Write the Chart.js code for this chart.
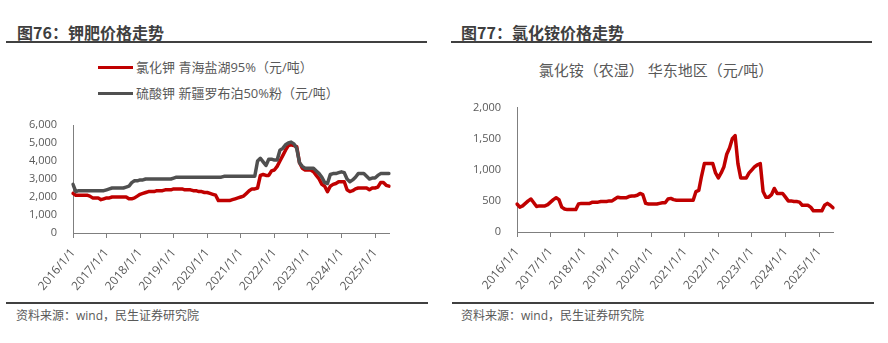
<!DOCTYPE html>
<html>
<head>
<meta charset="utf-8">
<script src="https://cdn.jsdelivr.net/npm/chart.js@4.4.1/dist/chart.umd.min.js"></script>
<style>
  body { margin: 0; width: 888px; height: 343px; background: #fff; position: relative; overflow: hidden;
         font-family: "Open Sans", "Noto Sans CJK SC", sans-serif; color: #595959; }
  .title { position: absolute; top: 21px; font: bold 16px "Noto Sans CJK SC", sans-serif; color: #3f3f3f; line-height: 22px; }
  .rule { position: absolute; height: 2px; background: #404040; }
  .src { position: absolute; top: 307px; font-size: 12px; line-height: 18px; color: #595959; }
  .leg { position: absolute; left: 98px; font-size: 13px; line-height: 18px; }
  .leg i { position: absolute; left: 0; top: 7.5px; width: 35px; height: 3.5px; }
  .leg span { position: absolute; left: 38px; top: 0; white-space: nowrap; }
  .sub { position: absolute; left: 444px; width: 424px; top: 59px; text-align: center; font-size: 15px; line-height: 22px; }
  .box { position: absolute; }
</style>
</head>
<body>
<div class="title" style="left:17px">图76：钾肥价格走势</div>
<div class="title" style="left:461px">图77：氯化铵价格走势</div>
<div class="rule" style="left:6px;width:421px;top:41px"></div>
<div class="rule" style="left:451px;width:421px;top:41px"></div>

<div class="leg" style="top:58px"><i style="background:#C00000"></i><span>氯化钾 青海盐湖95%（元/吨）</span></div>
<div class="leg" style="top:84px"><i style="background:#505050"></i><span>硫酸钾 新疆罗布泊50%粉（元/吨）</span></div>
<div class="sub">氯化铵（农湿） 华东地区（元/吨）</div>

<div class="box" style="left:0;top:100px"><canvas id="c1" width="444" height="200"></canvas></div>
<div class="box" style="left:444px;top:85px"><canvas id="c2" width="444" height="215"></canvas></div>

<div class="rule" style="left:6px;width:422px;top:302px"></div>
<div class="rule" style="left:452px;width:422px;top:302px"></div>
<div class="src" style="left:16px">资料来源：wind，民生证券研究院</div>
<div class="src" style="left:461px">资料来源：wind，民生证券研究院</div>

<script>
// 月度数据 2016/1 - 2025/6
const yearTicks = ["2016/1/1","2017/1/1","2018/1/1","2019/1/1","2020/1/1","2021/1/1","2022/1/1","2023/1/1","2024/1/1","2025/1/1"];

const kcl = [
  2200,2100,2100,2100,2100,2100,2050,1950,1950,1950,1850,1900,
  1950,1950,2000,2000,2000,2000,2000,2000,1900,1900,1950,2050,
  2150,2200,2250,2300,2300,2300,2350,2350,2350,2400,2400,2400,
  2450,2450,2450,2450,2400,2400,2400,2350,2350,2300,2300,2250,
  2250,2200,2150,2100,1800,1800,1800,1800,1800,1850,1900,1950,
  2000,2050,2200,2350,2450,2450,2500,3200,3250,3200,3200,3450,
  3500,3700,4000,4300,4600,4850,4900,4850,4800,3900,3600,3500,
  3500,3500,3400,3200,3000,2700,2600,2300,2600,2700,2750,2850,
  2850,2850,2400,2300,2350,2450,2500,2500,2500,2500,2400,2500,
  2500,2550,2800,2800,2650,2600
];

const k2so4 = [
  2700,2300,2350,2350,2350,2350,2350,2350,2350,2350,2350,2350,
  2400,2450,2500,2500,2500,2500,2500,2550,2600,2800,2900,2900,
  2950,2950,3000,3000,3000,3000,3000,3000,3000,3000,3000,3000,
  3050,3100,3100,3100,3100,3100,3100,3100,3100,3100,3100,3100,
  3100,3100,3100,3100,3100,3100,3150,3150,3150,3150,3150,3150,
  3150,3150,3150,3150,3150,3150,4000,4150,3950,3750,4100,4100,
  4050,4050,4600,4700,4900,5000,5050,4950,4700,3900,3700,3600,
  3600,3600,3600,3450,3300,3100,2800,2750,3250,3300,3300,3350,
  3400,3350,3000,2850,2950,3100,3300,3300,3300,3150,3000,3050,
  3050,3200,3300,3300,3300,3300
];

const nh4cl = [
  450,400,420,460,500,530,470,410,420,420,420,440,
  480,520,550,520,400,370,360,360,360,360,450,460,
  460,460,460,480,480,480,490,490,490,500,500,530,
  560,550,550,550,570,580,580,590,620,600,460,450,
  450,450,450,460,470,470,530,540,520,510,510,510,
  510,510,510,510,650,670,900,1100,1100,1100,1100,950,
  870,950,1050,1250,1350,1500,1550,1100,870,870,870,950,
  1000,1050,1080,1100,650,560,560,600,700,620,620,620,
  560,500,500,490,490,480,430,430,430,400,340,340,
  340,340,430,460,430,390
];

const months = [];
for (let y = 2016; y <= 2025; y++) {
  for (let m = 1; m <= 12; m++) months.push(`${y}/${m}/1`);
}
const labels = months.slice(0, kcl.length);

const axisColor = "#7f7f7f";
const yFont = { family: "'Open Sans', 'Noto Sans CJK SC', sans-serif", size: 11 };
const xFont = { family: "'Open Sans', 'Noto Sans CJK SC', sans-serif", size: 12 };

function makeOptions(yMax, yStep, padTop, xHeight) {
  return {
    responsive: false,
    animation: false,
    layout: { padding: { top: padTop, right: 55, left: 0, bottom: 0 } },
    plugins: { legend: { display: false }, tooltip: { enabled: false } },
    elements: { point: { radius: 0 }, line: { tension: 0, borderJoinStyle: "round", borderCapStyle: "round" } },
    scales: {
      x: {
        type: "category",
        offset: false,
        grid: { display: true, drawOnChartArea: false, drawTicks: true, tickLength: 5, color: axisColor, offset: false },
        border: { display: true, color: axisColor, width: 1 },
        ticks: {
          autoSkip: false, minRotation: 50, maxRotation: 50, padding: 8,
          color: "#595959", font: xFont,
          callback: function (v) {
            const lab = this.getLabelForValue(v);
            return yearTicks.includes(lab) ? lab : null;
          }
        },
        afterFit: s => { s.height = xHeight; }
      },
      y: {
        min: 0, max: yMax,
        grid: { display: false, drawTicks: false },
        border: { display: true, color: axisColor, width: 1 },
        ticks: { stepSize: yStep, padding: 16, color: "#595959", font: yFont },
        afterFit: s => { s.width = 73; }
      }
    }
  };
}

new Chart(document.getElementById("c1"), {
  type: "line",
  data: {
    labels: labels,
    datasets: [
      { label: "氯化钾 青海盐湖95%（元/吨）", data: kcl, borderColor: "#C00000", borderWidth: 3.5, order: 1 },
      { label: "硫酸钾 新疆罗布泊50%粉（元/吨）", data: k2so4, borderColor: "#505050", borderWidth: 3.5, order: 0 }
    ]
  },
  options: makeOptions(6000, 1000, 25, 67)
});

new Chart(document.getElementById("c2"), {
  type: "line",
  data: {
    labels: labels,
    datasets: [
      { label: "氯化铵（农湿） 华东地区（元/吨）", data: nh4cl, borderColor: "#C00000", borderWidth: 3.5 }
    ]
  },
  options: makeOptions(2000, 500, 17, 68)
});
</script>
</body>
</html>
